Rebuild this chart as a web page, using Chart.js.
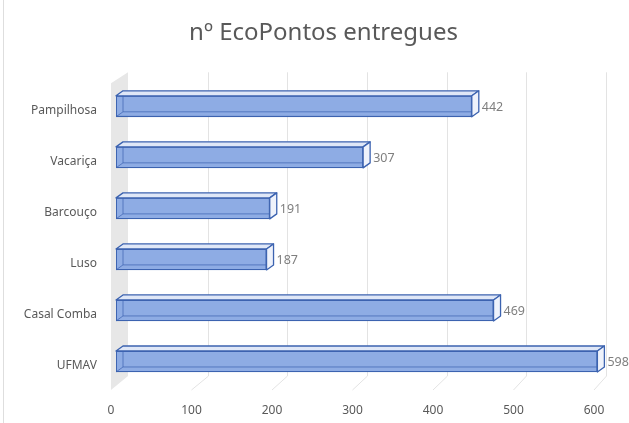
<!DOCTYPE html>
<html lang="pt">
<head>
  <meta charset="UTF-8">
  <title>nº EcoPontos entregues</title>
  <script src="https://cdn.jsdelivr.net/npm/chart.js@4"></script>
  <style>
    html, body {
      margin: 0;
      padding: 0;
      background: #ffffff;
    }
    .chart-box {
      position: relative;
      width: 629px;
      height: 423px;
    }
  </style>
</head>
<body>
  <div class="chart-box">
    <canvas id="ecoChart"></canvas>
  </div>

  <script>
    // Values
    const categories = ['Pampilhosa', 'Vacariça', 'Barcouço', 'Luso', 'Casal Comba', 'UFMAV'];
    const entregues = [442, 307, 191, 187, 469, 598];
    const xTicks = [0, 100, 200, 300, 400, 500, 600];

    const FONT = "'Noto Sans', 'Liberation Sans', sans-serif";
    const DEPTH_X = 7;
    const DEPTH_Y = 5;

    // Excel-style 3D look: grey side wall, back gridlines, floor lines,
    // top and end faces of each bar, and value labels
    const threeD = {
      id: 'threeD',
      beforeDraw(chart) {
        const ctx = chart.ctx;
        ctx.save();
        ctx.strokeStyle = '#dedede';
        ctx.lineWidth = 1;
        ctx.beginPath();
        ctx.moveTo(3.5, 0);
        ctx.lineTo(3.5, chart.height);
        ctx.stroke();
        ctx.restore();
      },
      beforeDatasetsDraw(chart) {
        const ctx = chart.ctx;
        const a = chart.chartArea;
        const xs = chart.scales.x;
        const backTop = a.top - 8.5;
        const backBottom = a.bottom - 11;
        const frontBottom = a.bottom + 3;
        ctx.save();

        // side wall
        ctx.fillStyle = '#e7e7e7';
        ctx.beginPath();
        ctx.moveTo(a.left - 5, a.top + 2.5);
        ctx.lineTo(a.left + 12, backTop);
        ctx.lineTo(a.left + 12, backBottom);
        ctx.lineTo(a.left - 5, frontBottom);
        ctx.closePath();
        ctx.fill();

        // gridlines on back wall and floor
        ctx.strokeStyle = '#e3e3e3';
        ctx.lineWidth = 1;
        xs.ticks.forEach(t => {
          if (t.value === 0) return;
          const px = xs.getPixelForValue(t.value);
          const xb = Math.round(a.left + 12 + (px - a.left) * 0.99) + 0.5;
          ctx.beginPath();
          ctx.moveTo(xb, backTop);
          ctx.lineTo(xb, backBottom);
          ctx.lineTo(px - 5, frontBottom);
          ctx.stroke();
        });
        ctx.restore();
      },
      afterDatasetsDraw(chart) {
        const ctx = chart.ctx;
        const meta = chart.getDatasetMeta(0);
        ctx.save();
        meta.data.forEach((bar, i) => {
          const x0 = bar.base;
          const x1 = bar.x;
          const yT = bar.y - bar.height / 2;
          const yB = bar.y + bar.height / 2;

          // edges seen through the bar
          ctx.strokeStyle = 'rgba(60, 99, 176, 0.7)';
          ctx.lineWidth = 1;
          ctx.beginPath();
          ctx.moveTo(x0 + DEPTH_X, yT - DEPTH_Y);
          ctx.lineTo(x0 + DEPTH_X, yB - DEPTH_Y);
          ctx.lineTo(x1 + DEPTH_X, yB - DEPTH_Y);
          ctx.moveTo(x0, yB);
          ctx.lineTo(x0 + DEPTH_X, yB - DEPTH_Y);
          ctx.stroke();

          ctx.strokeStyle = '#3c63b0';
          ctx.lineWidth = 1.3;
          ctx.lineJoin = 'round';

          // top face
          ctx.fillStyle = '#dfe7f7';
          ctx.beginPath();
          ctx.moveTo(x0, yT);
          ctx.lineTo(x0 + DEPTH_X, yT - DEPTH_Y);
          ctx.lineTo(x1 + DEPTH_X, yT - DEPTH_Y);
          ctx.lineTo(x1, yT);
          ctx.closePath();
          ctx.fill();
          ctx.stroke();

          // end face
          ctx.fillStyle = '#eef2fb';
          ctx.beginPath();
          ctx.moveTo(x1, yT);
          ctx.lineTo(x1 + DEPTH_X, yT - DEPTH_Y);
          ctx.lineTo(x1 + DEPTH_X, yB - DEPTH_Y);
          ctx.lineTo(x1, yB);
          ctx.closePath();
          ctx.fill();
          ctx.stroke();

          // value label
          ctx.fillStyle = '#7f7f7f';
          ctx.font = '12.5px ' + FONT;
          ctx.textAlign = 'left';
          ctx.textBaseline = 'middle';
          ctx.fillText(String(entregues[i]), x1 + DEPTH_X + 3, bar.y + 1);
        });
        ctx.restore();
      }
    };

    new Chart(document.getElementById('ecoChart'), {
      type: 'bar',
      data: {
        labels: categories,
        datasets: [{
          label: 'nº EcoPontos entregues',
          data: entregues,
          backgroundColor: '#8eace4',
          borderColor: '#3c63b0',
          borderWidth: 1.3,
          borderSkipped: false,
          barThickness: 21,
          yAxisID: 'y'
        }]
      },
      options: {
        indexAxis: 'y',
        responsive: true,
        maintainAspectRatio: false,
        animation: false,
        // left padding keeps the title centred like the original
        layout: { padding: { left: 18, right: 0, top: 0, bottom: 0 } },
        plugins: {
          legend: { display: false },
          tooltip: { enabled: false },
          title: {
            display: true,
            text: 'nº EcoPontos entregues',
            color: '#595959',
            font: { family: FONT, size: 24, weight: 'normal' },
            padding: { top: 19, bottom: 33 }
          }
        },
        scales: {
          x: {
            min: 0,
            max: 600,
            afterBuildTicks(scale) {
              scale.ticks = xTicks.map(v => ({ value: v }));
            },
            afterFit(scale) { scale.height = 36; },
            grid: { display: false, drawTicks: false },
            border: { display: false },
            ticks: {
              color: '#595959',
              font: { family: FONT, size: 12 },
              padding: 16,
              labelOffset: -5
            }
          },
          y: {
            afterFit(scale) { scale.width = 98; },
            grid: { display: false, drawTicks: false },
            border: { display: false },
            ticks: {
              color: '#595959',
              font: { family: FONT, size: 12 },
              padding: 19,
              labelOffset: 4
            }
          },
          // empty right axis: room for the end labels
          yRight: {
            type: 'category',
            position: 'right',
            afterFit(scale) { scale.width = 30; },
            grid: { display: false, drawTicks: false },
            border: { display: false },
            ticks: { display: false }
          }
        }
      },
      plugins: [threeD]
    });
  </script>
</body>
</html>
